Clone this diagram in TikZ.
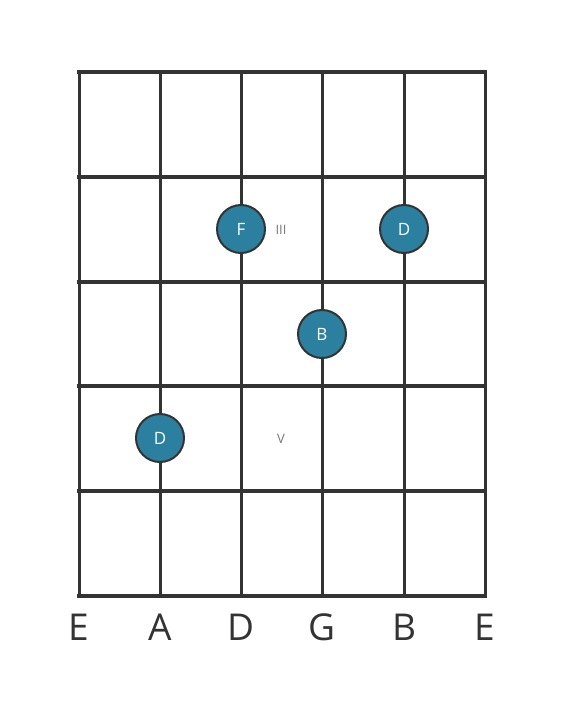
\documentclass[tikz,border=0pt]{standalone}
\usepackage{fontspec}
\setmainfont{Open Sans}
\definecolor{gridc}{HTML}{333333}
\definecolor{dotc}{HTML}{2A809E}
\definecolor{markc}{HTML}{777777}
\begin{document}
\begin{tikzpicture}[x=1pt,y=-1pt,
  fret/.style={draw=gridc,line width=4.5pt},
  string/.style={draw=gridc,line width=3pt},
  dot/.style={circle,fill=dotc,draw=gridc,line width=2pt,minimum size=48pt,inner sep=0pt,text=white,font=\fontsize{17}{19}\selectfont},
  strlabel/.style={text=gridc,font=\fontsize{37}{40}\selectfont},
  marker/.style={text=markc,font=\fontsize{13}{15}\selectfont}]
\useasboundingbox (0,0) rectangle (566,711);
\foreach \x in {79,160,241,322,404,485} \draw[string] (\x,72) -- (\x,596);
\foreach \y in {72,177,282,386,491,596} \draw[fret,line cap=rect] (79,\y) -- (485,\y);
\node[dot] (f) at (241,229) {F};
\node[dot] (d1) at (404,229) {D};
\node[dot] (b) at (322,334) {B};
\node[dot] (d2) at (160,438) {D};
\node[marker] (m3) at (281,230) {III};
\node[marker] (m5) at (281,439) {V};
\node[strlabel] (s1) at (79,627) {E};
\node[strlabel] (s2) at (160,627) {A};
\node[strlabel] (s3) at (241,627) {D};
\node[strlabel] (s4) at (322,627) {G};
\node[strlabel] (s5) at (404,627) {B};
\node[strlabel] (s6) at (485,627) {E};
\end{tikzpicture}
\end{document}
